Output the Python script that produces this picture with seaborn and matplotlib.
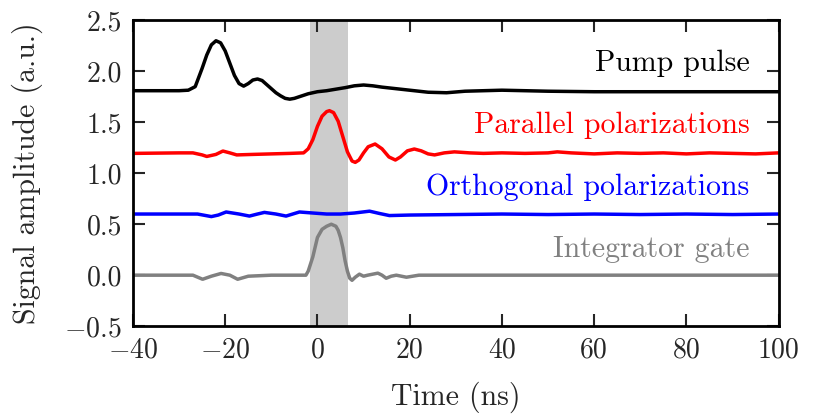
"""Signal traces: pump pulse, parallel/orthogonal polarizations and integrator gate."""
import numpy as np
import pandas as pd
import matplotlib
matplotlib.use('Agg')
import matplotlib.pyplot as plt
import seaborn as sns

# traces (time in ns, amplitude in a.u.)
pump_t = [-40, -30, -28, -26.5, -25, -24, -23, -22, -21, -20, -19, -18, -17, -16, -15, -14, -13,
          -12, -11, -10, -9, -8, -7, -6, -5, -4, -2, 0, 2, 4, 6, 8, 10, 12, 14, 17, 20, 24, 28,
          32, 36, 40, 45, 50, 60, 70, 80, 90, 100]
pump_v = [1.81, 1.81, 1.815, 1.85, 2.03, 2.16, 2.26, 2.30, 2.28, 2.20, 2.08, 1.96, 1.88, 1.855,
          1.88, 1.915, 1.925, 1.91, 1.87, 1.83, 1.79, 1.76, 1.735, 1.727, 1.735, 1.75, 1.78, 1.80,
          1.81, 1.825, 1.84, 1.858, 1.866, 1.858, 1.845, 1.83, 1.815, 1.795, 1.79, 1.805, 1.81,
          1.815, 1.81, 1.805, 1.80, 1.80, 1.80, 1.80, 1.80]

para_t = [-40, -30, -27, -25, -24, -22, -20.5, -19, -17.5, -14, -10, -6, -3, -2, -1, 0, 1, 2, 2.6,
          3.5, 4.5, 5.5, 6.5, 7.5, 8.2, 9, 10, 11, 12.5, 14, 15.5, 16.9, 18, 19.5, 21, 22.5, 24,
          25.4, 27.5, 29.7, 33, 36, 40, 45, 50, 52, 55, 60, 65, 70, 75, 80, 85, 90, 95, 100]
para_v = [1.195, 1.2, 1.2, 1.18, 1.165, 1.185, 1.218, 1.2, 1.18, 1.185, 1.19, 1.195, 1.2, 1.24,
          1.33, 1.46, 1.56, 1.605, 1.614, 1.595, 1.51, 1.36, 1.21, 1.12, 1.107, 1.13, 1.2, 1.26,
          1.287, 1.24, 1.16, 1.13, 1.16, 1.22, 1.238, 1.22, 1.19, 1.18, 1.2, 1.21, 1.2, 1.195,
          1.2, 1.195, 1.2, 1.21, 1.2, 1.19, 1.2, 1.195, 1.2, 1.19, 1.2, 1.195, 1.19, 1.2]

orth_t = [-40, -30, -26, -23, -21.5, -19.8, -17, -14.75, -13, -11.5, -9, -6.8, -5, -3.9, -1, 2, 5,
          8, 11.3, 13.5, 15.6, 20, 30, 40, 50, 60, 70, 80, 90, 100]
orth_v = [0.6, 0.6, 0.6, 0.575, 0.59, 0.62, 0.6, 0.58, 0.6, 0.616, 0.6, 0.58, 0.605, 0.62, 0.61,
          0.6, 0.6, 0.61, 0.628, 0.605, 0.585, 0.59, 0.595, 0.6, 0.595, 0.6, 0.595, 0.6, 0.595, 0.6]

gate_t = [-40, -30, -27, -24.9, -23, -20.9, -19, -17.3, -15, -10, -5, -2.5, -2, -1, 0, 1, 2, 3, 4,
          4.5, 5, 5.5, 6, 6.5, 7, 7.5, 8.2, 9.1, 10, 10.9, 12, 13.1, 14, 14.9, 16, 17.1, 19.3, 22,
          30, 40, 60, 80, 100]
gate_v = [0, 0, 0, -0.04, -0.01, 0.017, 0, -0.04, -0.01, 0, 0, 0, 0.04, 0.18, 0.37, 0.45, 0.48,
          0.5, 0.48, 0.44, 0.37, 0.27, 0.14, 0.04, -0.03, -0.05, -0.02, 0.01, -0.01, 0.0, 0.01,
          0.02, 0.0, -0.03, -0.01, 0.0, -0.02, 0, 0, 0, 0, 0, 0]

labels = ['Pump pulse', 'Parallel polarizations', 'Orthogonal polarizations', 'Integrator gate']
colors = ['black', '#ff0000', '#0000ff', '#808080']
label_y = [2.08, 1.47, 0.86, 0.25]
gate_window = (-1.7, 6.7)

sns.set_style('ticks')
plt.rcParams['font.family'] = 'serif'
plt.rcParams['font.serif'] = ['cmr10']
plt.rcParams['mathtext.fontset'] = 'cm'
plt.rcParams['axes.formatter.use_mathtext'] = True

df = pd.concat([
    pd.DataFrame({'t': t, 'v': v, 'trace': name})
    for t, v, name in zip([pump_t, para_t, orth_t, gate_t],
                          [pump_v, para_v, orth_v, gate_v], labels)
])

fig = plt.figure(figsize=(8.31, 4.16), dpi=100)
ax = fig.add_axes([0.160, 0.216, 0.777, 0.735])
ax.axvspan(*gate_window, color='#cccccc', lw=0, zorder=0)
sns.lineplot(data=df, x='t', y='v', hue='trace', palette=dict(zip(labels, colors)),
             sort=False, estimator=None, lw=2.5, legend=False, ax=ax)

for name, c, y in zip(labels, colors, label_y):
    ax.text(93.7, y, name, color=c, ha='right', va='center', fontsize=21.5)

ax.set_xlim(-40, 100)
ax.set_ylim(-0.5, 2.5)
ax.set_xticks(np.arange(-40, 101, 20))
ax.set_yticks(np.arange(-0.5, 2.51, 0.5))
ax.set_yticklabels([f'{v:.1f}' if v >= 0 else f'$-${abs(v):.1f}' for v in np.arange(-0.5, 2.51, 0.5)])
ax.set_xticklabels([f'{v}' if v >= 0 else f'$-${abs(v)}' for v in range(-40, 101, 20)])
ax.set_xlabel('Time (ns)', fontsize=21.5, labelpad=13)
ax.set_ylabel('Signal amplitude (a.u.)', fontsize=21.5, labelpad=15)
ax.tick_params(direction='in', length=8.5, width=1.5, top=True, right=True, labelsize=20, pad=8)
for s in ax.spines.values():
    s.set_linewidth(2)
    s.set_color('black')

fig.savefig('out.png', dpi=100)
